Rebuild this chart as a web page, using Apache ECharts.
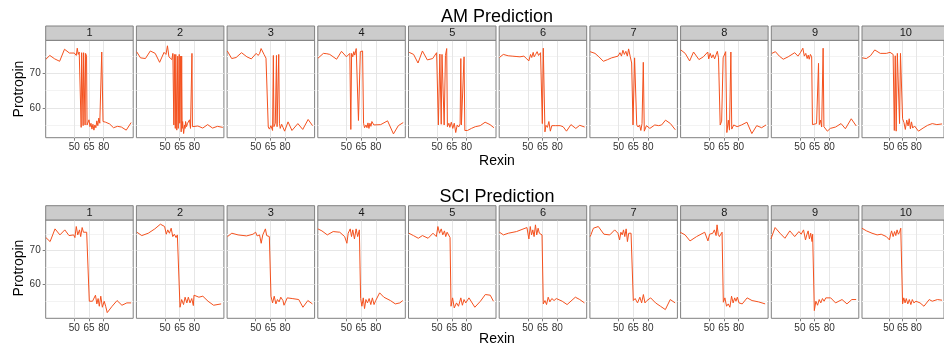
<!DOCTYPE html>
<html>
<head>
<meta charset="utf-8">
<script src="https://cdn.jsdelivr.net/npm/echarts@6/dist/echarts.min.js"></script>
<style>
  html, body { margin: 0; padding: 0; background: #fff; }
  #chart { width: 944px; height: 349px; }
</style>
</head>
<body>
<div id="chart"></div>
<script>
const panelLabels = ['1', '2', '3', '4', '5', '6', '7', '8', '9', '10']
const xTicks = [50, 65, 80]
const yTicks = [60, 70]
const yMinor = [55, 65, 75]

// AM Prediction, one [Rexin, Protropin] list per panel
const amData = [
  [[21,74.1],[25,75.2],[30,74.2],[35,73.5],[40,77.0],[45,75.9],[50,75.9],[52,75.2],[53,77.3],[54,75.5],[55,76.2],[56,75.8],[57,54.3],[57.5,76.0],[58.5,76.0],[59,54.8],[59.5,76.0],[60.5,76.0],[61,55.0],[61.5,75.8],[62.5,75.0],[63,55.0],[64,54.5],[65,56.5],[66,54.5],[67,55.5],[68,53.8],[69,55.2],[70,53.5],[71,55.0],[72,54.2],[73,56.2],[74,54.8],[75,57.0],[76,55.5],[77,56.0],[78,76.2],[78.8,76.2],[79.3,56.0],[82,55.8],[86,55.3],[90,54.2],[94,54.6],[98,54.4],[103,53.5],[108,55.7]],
  [[21,76.3],[25,74.5],[30,74.3],[35,76.5],[40,75.8],[44.5,73.2],[49,76.1],[51,75.5],[52.5,78],[54,74.8],[56,75.3],[57,74],[58,75.8],[59,55],[59.5,75.5],[60.5,54],[61,75.5],[62,53.5],[63,75],[63.5,54],[64.5,75.5],[65,55.5],[66,75],[66.5,53],[67,75],[67.5,54],[68,56],[69,52.5],[70,55],[70.5,54],[71,56],[72,54.5],[73,55.5],[74,55],[75,56.5],[76,54],[77.5,75.8],[78,54.5],[79,55],[83.5,54.7],[88.5,54.1],[93.5,55.1],[98.5,54.1],[103.5,54.6],[109,54.3]],
  [[21,76.5],[25.5,74.3],[30,74.6],[35.5,76.0],[41,74.8],[45.5,74.2],[50.5,75.8],[52.5,75.2],[54,75.8],[55.5,77.2],[57,76.8],[58.5,75.5],[60.5,74.4],[62,74.0],[62.8,54.4],[64,53.8],[65.5,54.8],[67.2,53.4],[68,75.2],[68.6,54.5],[70,55.5],[71.2,75.2],[71.8,54.5],[73.5,75.5],[74.2,55.5],[75,54],[76.5,55.2],[78,54.2],[79.5,53.2],[83,55.9],[87,53.4],[93,55.4],[98,53.7],[103.5,56.6],[108,54.8]],
  [[21,74.4],[26.5,75.8],[30,75.7],[33,75.5],[40,74.1],[45,76.4],[50,74.8],[52,74.5],[53.5,75.8],[54.5,53.7],[55.3,75.8],[56.5,74.8],[57.5,76.3],[58.5,75.3],[60,77.2],[61,76.8],[62.3,56.3],[63.3,56.5],[64.2,76.3],[65.5,75.8],[66.5,76.5],[67.5,55.5],[68.5,54.2],[70,55.0],[71,54.2],[72,55.6],[73,54.0],[74,55.5],[75,54.6],[76,56.0],[78,55.0],[85,55.1],[92,56.2],[94,56.6],[98,52.4],[103,54.8],[108,55.7]],
  [[21.5,76.1],[26,75.5],[30.5,73.0],[35,76.5],[40,73.9],[45.5,74.3],[49.5,76.0],[51.3,55.0],[52.8,75.6],[54.2,55.2],[55,75.5],[56.3,75.0],[57.2,55.0],[58.5,75.2],[59.8,77.2],[60.5,54.5],[62,55.5],[63,54.3],[64.5,55.8],[66,54.0],[67.5,55.5],[69,52.8],[70.5,55.0],[72,54.4],[73.5,55.3],[74.2,74.3],[74.8,55.0],[76.5,54.8],[77.5,74.8],[78.3,53.4],[81,53.4],[85,54.0],[89,54.5],[94,54.8],[99,55.8],[104,55.1],[108,54.2]],
  [[21,74.6],[25,75.5],[30,75.1],[34,75.0],[38,74.9],[42,74.8],[46,75.0],[49,74.2],[51,73.6],[52.8,75.5],[54,74.6],[55.5,76.1],[56.5,74.8],[58,75.5],[59.5,76.3],[61,75.2],[63,76.0],[64.3,75.5],[64.8,55.4],[65.8,77.3],[66.5,76.8],[67.5,53.0],[68.5,54.9],[70,54.3],[71.5,56.0],[73,53.2],[74.5,54.8],[76,55.2],[78,54.8],[83,54.8],[86,54.5],[89.5,53.2],[94,55.1],[99,54.0],[103,54.9],[108,54.4]],
  [[21,76.3],[26,75.8],[30,74.8],[34.5,73.5],[39,74.0],[43,74.5],[49.5,75.0],[51.5,76.0],[53,75.0],[54.5,76.7],[56,75.5],[57.5,76.4],[59,75.0],[60.3,77.1],[62,74.8],[63.4,73.0],[64.8,55.0],[66.4,74.5],[67.5,74.2],[68.6,55.0],[70,54.4],[71.5,55.0],[72.8,53.4],[74,55.4],[75.3,73.2],[76.3,53.2],[78.5,54.8],[82,54.0],[87,55.0],[91,54.8],[94,55.0],[98,56.4],[103,55.4],[108,53.6]],
  [[21,76.8],[25.5,75.8],[30,73.6],[34,76.2],[39.5,74.0],[44,74.8],[48.5,76.2],[49.5,74.2],[51,75.8],[52.5,74.5],[54,75.4],[55.5,74.2],[57,75.4],[58.3,76.4],[59.5,74.5],[60.5,75.0],[61.2,55.0],[62.7,56.1],[64.2,74.5],[65.5,74.2],[66.8,76.3],[68,52.8],[69.5,56.4],[70.7,53.5],[72.1,76.2],[73,53.8],[75,55.0],[78.5,54.5],[83,55.0],[88.5,55.8],[93.5,52.5],[98.5,54.8],[103.5,54.2],[108,55.0]],
  [[21.4,75.8],[25,76.3],[29,75.0],[33,74.1],[38,74.8],[44.7,76.0],[48,75.0],[50.7,76.1],[53,77.3],[54.5,75.0],[56,75.8],[57.4,74.3],[58.5,75.3],[59.5,74.1],[60.7,75.5],[62,74.8],[62.8,55.1],[64.5,54.8],[67,55.4],[68.5,55.0],[69,72.9],[69.8,55.1],[71,56.4],[72.2,54.4],[73.7,77.3],[74.5,54.5],[76,55.0],[78,53.2],[81,54.0],[86.4,54.4],[92,55.4],[96.4,53.9],[102.4,56.8],[107.5,54.7]],
  [[21,74.5],[25.5,74.3],[30,75.1],[34.7,76.8],[40.7,75.8],[47.3,75.8],[51.3,76.1],[53,75.8],[54.7,75.5],[56,53.4],[57,75.1],[58,53.2],[59.3,75.8],[60.5,75.5],[61.7,55.4],[62.7,75.8],[64,76.1],[65,56.8],[66.5,55.7],[68,53.7],[69.5,56.4],[71,54.7],[72.2,56.8],[73.5,53.9],[74.7,55.9],[76,54.1],[78,54.7],[82.3,53.2],[87.3,54.1],[92.3,54.9],[97.3,55.4],[102.3,55.1],[108,55.3]]
]

// SCI Prediction
const sciData = [
  [[21,73.9],[25.3,72.7],[30.3,76.5],[35.3,74.7],[40.3,76.2],[44.6,74.5],[49.3,74.7],[50.6,73.9],[52,77.2],[53.5,74.7],[55.3,76.2],[56.5,74.2],[58,76.9],[59.3,75.5],[60.6,75.9],[62.6,75.5],[63.6,75.7],[65.3,54.9],[67,54.4],[68.6,54.9],[70,54.4],[71.6,56.7],[73,54.1],[74.3,55.7],[75.5,53.4],[77,56.4],[78,54.4],[78.6,53.1],[80.5,54.9],[82,53.4],[83.6,51.5],[88.6,53.4],[93.6,55.1],[98.6,53.7],[103.6,54.4],[108,54.4]],
  [[21.3,75.5],[26.3,74.5],[32.9,75.2],[39.6,76.5],[45.3,77.9],[49.6,77.2],[51.3,74.9],[52.8,76.2],[54.5,75.2],[56.3,76.7],[57.9,74.2],[59.5,74.9],[61.3,73.9],[62.6,74.7],[63.9,74.5],[65.3,53.1],[67,55.4],[68.9,53.9],[70.5,56.1],[72.3,54.4],[73.8,56.1],[75.5,54.4],[77.3,55.7],[78.9,53.6],[79.6,56.7],[84.6,56.1],[88.6,56.4],[93.9,54.9],[99.6,53.7],[107.3,54.1]],
  [[21.2,74.2],[25.6,75.2],[32,74.7],[40.6,74.4],[47.2,74.9],[49.9,75.5],[51.5,74.4],[53.9,74.7],[55.6,72.2],[57.2,74.7],[58.9,75.2],[59.9,76.5],[61.2,74.5],[62.6,75.0],[63.9,74.2],[65.6,56.4],[67.2,54.4],[68.9,56.4],[70.6,54.1],[72.2,55.4],[73.9,54.7],[75.6,56.1],[77.8,55.1],[78.9,53.7],[82.2,55.9],[87.2,55.7],[93.9,55.4],[98.2,53.1],[103.2,55.1],[107.9,54.1]],
  [[20.9,76.5],[25,75.9],[30.5,74.7],[36.5,75.7],[43.2,75.5],[48.2,74.2],[50.5,72.2],[51.8,75.2],[53.9,76.5],[55.2,74.2],[56.5,76.2],[58.2,73.5],[59.9,76.5],[61.5,74.2],[63.2,76.2],[64.5,55.7],[65.8,53.4],[67.2,55.9],[68.5,52.7],[69.9,55.4],[71.5,54.4],[73.2,55.7],[74.9,53.9],[76.5,55.9],[78.2,53.9],[79.9,55.1],[83.9,57.4],[88.2,56.1],[94.9,55.1],[99.9,54.1],[104.5,54.4],[107.5,55.1]],
  [[21.2,75.2],[25.8,74.5],[30.8,73.7],[35,74.5],[40.8,73.7],[45.8,75.2],[49.2,74.2],[50.8,77.2],[52.5,75.2],[54.2,76.5],[55.8,74.7],[57.5,75.9],[58.8,74.2],[60.2,75.5],[61.8,75.2],[63.2,73.9],[64.2,53.4],[65.8,55.9],[67.5,52.9],[69.8,54.4],[71.8,53.4],[74.2,55.9],[75.8,53.7],[77.5,55.4],[79.2,54.4],[82.5,55.9],[88.5,53.1],[94.2,54.9],[99.2,56.9],[104.2,56.7],[107.5,54.9]],
  [[21.1,75.5],[25.1,74.7],[30.1,75.2],[38.5,75.7],[49.1,76.9],[51.1,73.5],[52.5,77.2],[53.8,74.7],[55.1,76.2],[56.4,74.2],[57.8,77.7],[59.1,74.7],[60.5,76.7],[61.8,75.2],[63.1,75.5],[64.5,74.7],[65.8,54.1],[67.5,55.1],[69.1,53.9],[70.8,56.1],[72.5,54.7],[74.5,55.7],[76.8,55.1],[79.1,55.7],[85.1,54.9],[90.1,53.9],[98.5,56.1],[103,55.4],[107.8,54.4]],
  [[21.1,74.2],[24.4,76.7],[29.4,77.2],[35.1,74.9],[41.1,74.7],[46.1,76.2],[49.4,75.2],[51.1,73.2],[52.4,75.5],[53.8,74.7],[55.1,76.2],[56.4,74.2],[57.8,76.5],[59.1,72.7],[60.4,75.2],[61.8,74.9],[62.8,75.2],[65.1,55.1],[67,55.7],[69.4,54.4],[71.8,56.1],[73.6,54.4],[75.4,56.9],[77,54.4],[79,55.1],[82.8,55.9],[87.8,54.4],[92.8,53.4],[97.8,52.4],[102.8,55.4],[107.8,54.4]],
  [[20.4,75.5],[25.4,74.7],[30.4,72.9],[37.1,74.2],[45.4,75.5],[48.7,72.9],[50.4,74.9],[52,74.5],[53.7,75.2],[55.3,76.2],[57,74.5],[58,77.7],[59.2,74.9],[60.4,74.2],[61.8,74.5],[63.1,75.5],[64.4,54.6],[66,55.9],[67.7,53.4],[69.4,54.1],[71.1,53.1],[72.8,56.4],[74.4,54.4],[76,55.9],[77.3,54.9],[78.7,56.1],[80.4,54.4],[83.7,54.1],[88.7,55.9],[93.7,55.1],[100.4,54.7],[107.1,54.1]],
  [[20.4,73.5],[24.7,76.9],[29.7,75.2],[34.7,73.7],[39.7,75.9],[44.7,74.2],[49,75.7],[51.3,74.9],[53.7,76.2],[55.7,73.2],[57,74.7],[58.4,75.9],[59.7,73.5],[61,75.2],[62.4,72.7],[63,74.9],[64.7,52.1],[66.3,54.9],[68,53.7],[69.7,55.4],[71.3,54.4],[73,55.7],[74.7,54.9],[76.4,55.9],[81.4,55.9],[86.4,54.4],[93,55.4],[98,54.1],[103,55.4],[107.4,55.4]],
  [[20.7,76.7],[25.7,75.9],[31.7,75.2],[37.3,74.7],[41.7,74.9],[47.3,74.2],[50.7,73.2],[51.8,74.7],[53,75.9],[54.7,74.2],[56.3,75.7],[57.6,74.5],[59,76.2],[60.4,74.9],[61.7,75.5],[63,76.7],[65,54.1],[66.3,55.9],[67.7,54.4],[69,55.7],[70.7,54.1],[72.3,55.4],[74,53.9],[75.6,55.4],[77.3,54.4],[79.6,54.9],[84,54.4],[88.3,53.4],[94,55.4],[97.3,54.9],[103,55.4],[108,55.2]]
]

const chart = echarts.init(document.getElementById('chart'), null, { renderer: 'canvas' })
const font = 'Liberation Sans, Arial, Helvetica, sans-serif'
const lineColor = '#f4511e'

// layout of the two facet rows
const rows = [
  { title: 'AM Prediction', data: amData, top: 40.3, height: 97.4, yMin: 51.3, yMax: 79.6, titleY: 17, xLabY: 161, yLabY: 89 },
  { title: 'SCI Prediction', data: sciData, top: 220, height: 98.3, yMin: 49.8, yMax: 79.15, titleY: 197, xLabY: 339, yLabY: 268 }
]
const left0 = 45.7
const step = 90.7
const panelW = 87.5
const stripH = 14.3

const grid = []
const xAxis = []
const yAxis = []
const series = []
const graphic = []

rows.forEach((row, r) => {
  panelLabels.forEach((lab, i) => {
    const idx = r * panelLabels.length + i
    const left = left0 + i * step
    grid.push({
      left: left, top: row.top, width: panelW, height: row.height,
      show: true, backgroundColor: '#fff', borderColor: '#808080', borderWidth: 1
    })
    xAxis.push({
      type: 'value', gridIndex: idx, min: 20.8, max: 110.1,
      axisLine: { show: false },
      axisTick: { show: true, length: 3, lineStyle: { color: '#808080' }, customValues: xTicks },
      axisLabel: { show: true, customValues: xTicks, fontSize: 10, color: '#333', margin: 5, fontFamily: font },
      splitLine: { show: false }
    })
    yAxis.push({
      type: 'value', gridIndex: idx, min: row.yMin, max: row.yMax,
      axisLine: { show: false },
      axisTick: { show: i === 0, length: 3, lineStyle: { color: '#808080' }, customValues: yTicks },
      axisLabel: { show: i === 0, customValues: yTicks, fontSize: 10, color: '#333', margin: 5, fontFamily: font },
      splitLine: { show: false }
    })
    const gridLines = []
    yMinor.forEach((v) => gridLines.push({ yAxis: v, lineStyle: { color: '#f3f3f3', width: 1, type: 'solid' } }))
    yTicks.forEach((v) => gridLines.push({ yAxis: v, lineStyle: { color: '#e6e6e6', width: 1, type: 'solid' } }))
    xTicks.forEach((v) => gridLines.push({ xAxis: v, lineStyle: { color: '#e6e6e6', width: 1, type: 'solid' } }))
    series.push({
      type: 'line',
      xAxisIndex: idx,
      yAxisIndex: idx,
      data: row.data[i],
      showSymbol: false,
      symbol: 'none',
      z: 3,
      lineStyle: { color: lineColor, width: 1 },
      markLine: {
        silent: true, z: 1, symbol: ['none', 'none'], label: { show: false },
        animation: false, data: gridLines
      }
    })
    // facet strip
    graphic.push({
      type: 'rect', z: 10,
      shape: { x: left, y: row.top - stripH, width: panelW, height: stripH },
      style: { fill: '#cccccc', stroke: '#808080', lineWidth: 1 }
    })
    graphic.push({
      type: 'text', z: 11, x: left + panelW / 2, y: row.top - stripH / 2,
      style: { text: lab, fill: '#1a1a1a', font: '11px ' + font, align: 'center', verticalAlign: 'middle' }
    })
  })
  graphic.push({
    type: 'text', x: 497, y: row.titleY,
    style: { text: row.title, fill: '#000', font: '18px ' + font, align: 'center', verticalAlign: 'middle' }
  })
  graphic.push({
    type: 'text', x: 497, y: row.xLabY,
    style: { text: 'Rexin', fill: '#000', font: '14px ' + font, align: 'center', verticalAlign: 'middle' }
  })
  graphic.push({
    type: 'text', x: 19, y: row.yLabY, rotation: Math.PI / 2,
    style: { text: 'Protropin', fill: '#000', font: '14px ' + font, align: 'center', verticalAlign: 'middle' }
  })
})

chart.setOption({
  animation: false,
  backgroundColor: '#fff',
  grid: grid,
  xAxis: xAxis,
  yAxis: yAxis,
  series: series,
  graphic: graphic
})
window.addEventListener('resize', function () {
  chart.resize()
})
</script>
</body>
</html>
